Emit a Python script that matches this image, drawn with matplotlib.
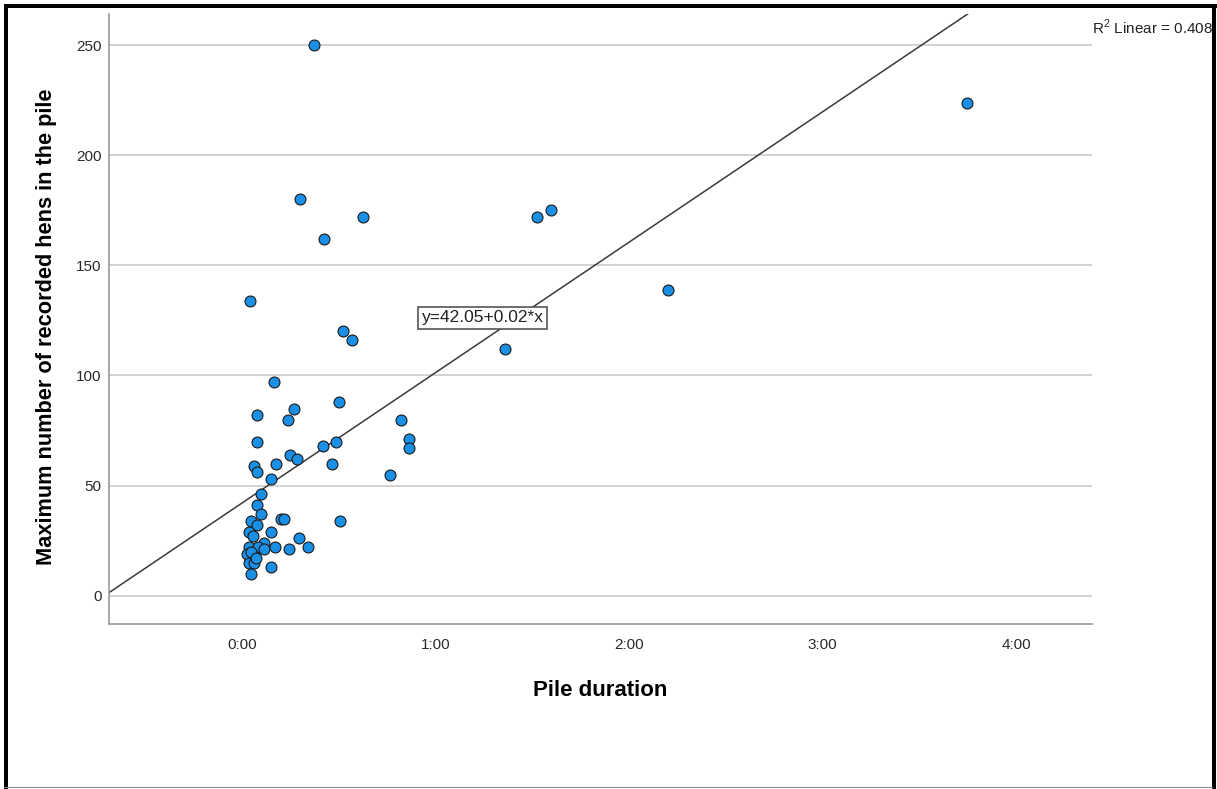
import matplotlib
matplotlib.use("Agg")
import matplotlib.pyplot as plt
from matplotlib.patches import Rectangle
from matplotlib.ticker import FuncFormatter
import numpy as np

plt.rcParams['font.family'] = ['Liberation Sans', 'DejaVu Sans']
plt.rcParams['mathtext.fontset'] = 'custom'
plt.rcParams['mathtext.rm'] = 'Liberation Sans'

# pile duration in seconds, max hens recorded in the pile
duration_s = [1345, 1079, 2246, 1531, 5483, 5749, 149, 1885, 2041, 4893,
              7931, 13489, 595, 1810, 967, 273, 856, 2964, 285, 3101,
              3101, 1743, 1501, 893, 1023, 627, 1680, 223, 279, 2759,
              540, 353, 285, 353, 167, 285, 726, 772, 1823, 121,
              195, 534, 1051, 415, 136, 303, 415, 620, 874, 1228,
              136, 229, 93, 136, 229, 540, 167, 167, 260]
max_hens = [250, 180, 172, 162, 172, 175, 134, 120, 116, 112,
            139, 224, 97, 88, 85, 82, 80, 80, 70, 71,
            67, 70, 68, 64, 62, 60, 60, 59, 56, 55,
            53, 46, 41, 37, 34, 32, 35, 35, 34, 29,
            27, 29, 26, 24, 22, 22, 21, 22, 21, 22,
            18, 18, 19, 15, 15, 13, 10, 20, 17]

intercept = 42.05
slope = 0.01646  # per second
r2 = 0.408

x_ticks_h = [0, 1, 2, 3, 4]
y_ticks = [0, 50, 100, 150, 200, 250]

fig = plt.figure(figsize=(12.17, 7.89), dpi=100)
ax = fig.add_axes([0.0898, 0.2095, 0.8075, 0.7728])

ax.set_xlim(-0.686 * 3600, 4.393 * 3600)
ax.set_ylim(-12.8, 264.3)

ax.set_yticks(y_ticks)
ax.set_xticks([h * 3600 for h in x_ticks_h])
ax.xaxis.set_major_formatter(FuncFormatter(
    lambda v, p: '%d:%02d' % (int(v // 3600), int(round((v % 3600) / 60)))))
ax.tick_params(length=0, labelsize=11, labelcolor='#2a2a2a')
ax.tick_params(axis='x', pad=10)
ax.tick_params(axis='y', pad=5.5)

ax.grid(axis='y', color='#cfcfcf', lw=1.3)
ax.set_axisbelow(True)
for side in ['top', 'right']:
    ax.spines[side].set_visible(False)
for side in ['left', 'bottom']:
    ax.spines[side].set_color('#9a9a9a')
    ax.spines[side].set_linewidth(1.2)

# fit line over the whole x range
xs = np.array(ax.get_xlim())
ax.plot(xs, intercept + slope * xs, color='#3a3a3a', lw=1.1, zorder=2)

ax.scatter(duration_s, max_hens, s=62, color='#1a8fe6', edgecolors='#1a1a1a',
           linewidths=0.8, zorder=3)

ax.text(0.318, 0.5014, 'y=%.2f+%.2f*x' % (intercept, slope), transform=ax.transAxes,
        ha='left', va='center', fontsize=12.5, color='#222222', zorder=4,
        bbox=dict(boxstyle='square,pad=0.2', fc='white', ec='#555555', lw=1.2))

ax.set_xlabel('Pile duration', fontsize=16, fontweight='bold')
ax.set_ylabel('Maximum number of recorded hens in the pile', fontsize=15.7, fontweight='bold')
ax.xaxis.set_label_coords(0.5, -0.092)
ax.yaxis.set_label_coords(-0.053, 0.4866)

fig.text(1092 / 1217, 1 - 27 / 789, r'R$^2$ Linear = %.3f' % r2, fontsize=11,
         ha='left', va='center', color='#222222')

# frame around the chart
W, H = 1217, 789
for (x0, y0, w, h, c) in [(4, 0, 4, H - 4, 'black'),
                          (4, H - 8, W - 4, 4, 'black'),
                          (W - 5, 0, 4, H - 4, 'black'),
                          (4, 1, W - 8, 1.5, '#888888')]:
    fig.patches.append(Rectangle((x0 / W, y0 / H), w / W, h / H, transform=fig.transFigure,
                                 color=c, lw=0, zorder=10))

fig.savefig('out.png', dpi=100)
